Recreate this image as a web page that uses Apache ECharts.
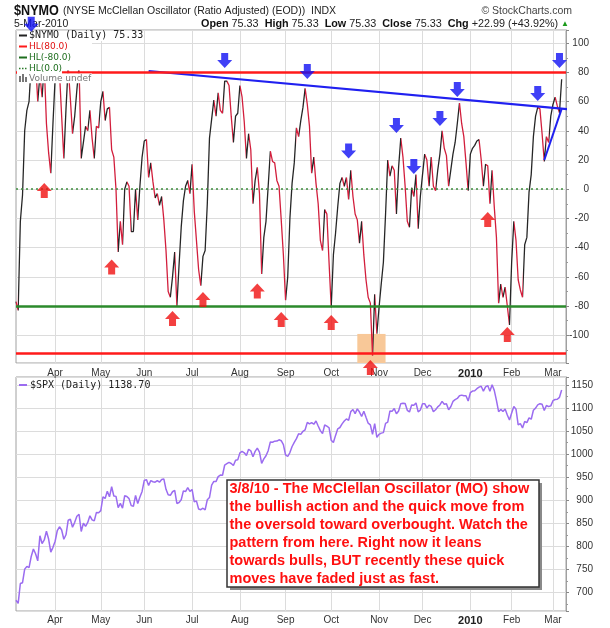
<!DOCTYPE html>
<html>
<head>
<meta charset="utf-8">
<script src="https://cdn.jsdelivr.net/npm/echarts@6/dist/echarts.min.js"></script>
</head>
<body style="margin:0;background:#fff">
<div id="main" style="width:610px;height:628px"></div>
<script>
// trading days Mar 6 2009 - Mar 5 2010 (exchange holidays skipped)
var holidays = ['2009-04-10', '2009-05-25', '2009-07-03', '2009-09-07', '2009-11-26',
  '2009-12-25', '2010-01-01', '2010-01-18', '2010-02-15'];
var padDays = ['2010-03-08', '2010-03-09'];
var monthLabels = ['Apr', 'May', 'Jun', 'Jul', 'Aug', 'Sep', 'Oct', 'Nov', 'Dec', '2010', 'Feb', 'Mar'];

// $NYMO daily
var nymoMar09 = [-77, -83, -22, -4, 40, 54, 60, 86, 96, 88, 60, 78, 63, 85, 45, 25, 11, 45];
var nymoApr09 = [76, 90, 80, 50, 21, 55, 84, 62, 38, 50, 68, 84, 21, 32, 43, 40, 54, 35, 21, 43, 42];
var nymoMay09 = [60, 67, 47, 55, 56, 27, 22, 0, -43, -22, -38, 0, 5, 2, -29, -29, 0, -21, 2, 22];
var nymoJun09 = [33, 34, 8, 18, 5, -6, -3, -11, -5, -21, -42, -70, -74, -60, -43, -80, -52, -26, -8, 2, 6, -3];
var nymoJul09 = [17, -15, -35, -55, -66, -46, -42, -10, 35, 48, 61, 50, 66, 54, 52, 74, 74, 71, 50, 32, 50, 52];
var nymoAug09 = [71, 63, 46, 21, 38, 27, -10, 6, 15, -3, -58, -33, -22, 2, 26, 19, 18, 6, 2, -21, -45];
var nymoSep09 = [-76, -60, -20, 4, 18, 42, 36, 47, 56, 69, 58, 43, 11, 22, 4, -10, -35, -42, -14, -17, -50];
var nymoOct09 = [-81, -45, -30, -12, 4, 8, 2, 8, -7, 13, -5, -17, -21, -37, -22, -45, -62, -74, -78, -114, -72, -99];
var nymoNov09 = [-81, -65, -50, -17, 20, 9, 16, 13, -17, 15, 35, 22, 2, -22, -26, 1, -5, 10, -27, -5];
var nymoDec09 = [10, 24, 20, 2, 22, 2, -1, 13, 24, 40, 28, 23, 2, 13, 24, 32, 45, 59, 45, 36, 18, -1];
var nymoJan10 = [24, 28, 30, 33, 34, 20, 2, 17, 16, -10, 13, -12, -33, -78, -65, -74, -67, -80, -93];
var nymoFeb10 = [-50, -22, -35, -62, -69, -74, -38, -33, -2, 10, 36, 50, 56, 55, 38, 19, 36, 32, 50];
var nymoMar10 = [58, 63, 57, 52.34, 75.33];

// $SPX daily closes
var spxMar09 = [683.38, 676.53, 719.60, 721.36, 750.74, 756.55, 753.89, 778.12, 794.35, 784.04, 768.54, 822.92, 806.12, 813.88, 832.86, 815.94, 787.53, 797.87];
var spxApr09 = [811.08, 834.38, 842.50, 835.48, 815.55, 825.16, 856.56, 858.73, 841.50, 852.06, 865.30, 869.60, 832.39, 850.08, 843.55, 851.92, 866.23, 857.51, 855.16, 873.64, 872.81];
var spxMay09 = [877.52, 907.24, 903.80, 919.53, 907.39, 929.23, 909.24, 908.35, 883.92, 893.07, 882.88, 909.71, 908.13, 903.47, 888.33, 887.00, 910.33, 893.06, 906.83, 919.14];
var spxJun09 = [942.87, 944.74, 931.76, 942.46, 940.09, 939.14, 942.43, 939.15, 944.89, 946.21, 923.72, 911.97, 910.71, 918.37, 921.23, 893.04, 895.10, 900.94, 920.26, 918.90, 927.23, 919.32];
var spxJul09 = [923.33, 896.42, 898.72, 881.03, 879.56, 882.68, 879.13, 901.05, 905.84, 932.68, 940.74, 940.38, 951.13, 954.58, 954.07, 976.29, 979.26, 982.18, 979.62, 975.15, 986.75, 987.48];
var spxAug09 = [1002.63, 1005.65, 1002.72, 997.08, 1010.48, 1007.10, 994.35, 1005.81, 1012.73, 1004.09, 979.73, 989.67, 996.46, 1007.37, 1026.13, 1025.57, 1028.00, 1028.12, 1030.98, 1028.93, 1020.62];
var spxSep09 = [998.04, 994.75, 1003.24, 1016.40, 1025.39, 1033.37, 1044.14, 1042.73, 1049.34, 1052.63, 1068.76, 1065.49, 1068.30, 1064.66, 1071.66, 1060.87, 1050.78, 1044.38, 1062.98, 1060.61, 1057.08];
var spxOct09 = [1029.85, 1025.21, 1040.46, 1054.72, 1057.58, 1065.48, 1071.49, 1076.19, 1073.19, 1092.02, 1096.56, 1087.68, 1097.91, 1091.06, 1081.40, 1092.91, 1079.60, 1066.95, 1063.41, 1042.63, 1066.11, 1036.19];
var spxNov09 = [1042.88, 1045.41, 1046.50, 1066.63, 1069.30, 1093.08, 1093.01, 1098.51, 1087.24, 1093.48, 1109.30, 1110.32, 1109.80, 1094.90, 1091.38, 1106.24, 1105.65, 1110.63, 1091.49, 1095.63];
var spxDec09 = [1108.86, 1109.24, 1099.92, 1105.98, 1103.25, 1091.94, 1095.95, 1102.35, 1106.41, 1114.11, 1107.93, 1109.18, 1096.08, 1102.47, 1114.05, 1118.02, 1120.59, 1126.48, 1127.78, 1126.20, 1126.42, 1115.10];
var spxJan10 = [1132.99, 1136.52, 1137.14, 1141.69, 1144.98, 1146.98, 1136.22, 1145.68, 1148.46, 1136.03, 1150.23, 1138.04, 1116.48, 1091.76, 1096.78, 1092.17, 1097.50, 1084.53, 1073.87];
var spxFeb10 = [1089.19, 1103.32, 1097.28, 1063.11, 1066.19, 1056.74, 1070.52, 1068.13, 1078.47, 1075.51, 1094.87, 1099.51, 1106.75, 1109.17, 1108.01, 1094.60, 1105.24, 1102.94, 1104.49];
var spxMar10 = [1115.71, 1118.31, 1118.79, 1122.97, 1138.70];

// annotations drawn on the oscillator: [trading-day index, value]
var downArrows = [[7, 113], [96, 88.1], [134, 80.6], [153, 26.2], [175, 43.6], [183, 15.5], [195, 48.4], [203, 68.3], [240, 65.5], [250, 88.1]];
var upArrows = [[13, -0.9], [44, -53.3], [72, -88.5], [86, -75.5], [111, -69.7], [122, -89.2], [145, -91.3], [163, -122.1], [217, -20.7], [226, -99.5]];
var resistLine = [[61, 81], [261, 53.8]];
var riseLine = [[243, 20], [251, 55]];
var oversoldZone = [[157, -99.1], [170, -119]];

var noteLines = [
  '3/8/10 - The McClellan Oscillator (MO) show',
  'the bullish action and the quick move from',
  'the oversold toward overbought. Watch the',
  'pattern from here. Right now it leans',
  'towards bulls, BUT recently these quick',
  'moves have faded just as fast.'
];

function tradingDays(start, end, skip) {
  var out = [];
  var d = new Date(start + 'T00:00:00Z');
  var e = new Date(end + 'T00:00:00Z');
  for (; d <= e; d.setUTCDate(d.getUTCDate() + 1)) {
    var wd = d.getUTCDay();
    var s = d.toISOString().slice(0, 10);
    if (wd !== 0 && wd !== 6 && skip.indexOf(s) < 0) out.push(s);
  }
  return out;
}

var dates = tradingDays('2009-03-06', '2010-03-05', holidays);
var axisDates = dates.concat(padDays);
var nymo = [].concat(nymoMar09, nymoApr09, nymoMay09, nymoJun09, nymoJul09, nymoAug09,
  nymoSep09, nymoOct09, nymoNov09, nymoDec09, nymoJan10, nymoFeb10, nymoMar10);
var spx = [].concat(spxMar09, spxApr09, spxMay09, spxJun09, spxJul09, spxAug09,
  spxSep09, spxOct09, spxNov09, spxDec09, spxJan10, spxFeb10, spxMar10);

var monthStarts = [];
for (var i = 1; i < dates.length; i++) {
  if (dates[i].slice(5, 7) !== dates[i - 1].slice(5, 7)) monthStarts.push(i);
}

// falling days are drawn red, rising days black
var RED = '#d21e3c';
var fallPieces = [];
for (var j = 0; j < nymo.length - 1; j++) {
  if (nymo[j + 1] < nymo[j]) fallPieces.push({ gte: j, lte: j + 1, color: RED });
}

var DOWN = 'path://M4,0L11,0L11,7L15,7L7.5,15L0,7L4,7Z';
var UP = 'path://M7.5,0L15,8L11,8L11,15L4,15L4,8L0,8Z';

function isMonthStart(idx) { return monthStarts.indexOf(idx) >= 0; }

function xAxisFor(gridIndex, margin) {
  return {
    type: 'category', gridIndex: gridIndex, data: axisDates, boundaryGap: false,
    axisLine: { show: false }, axisTick: { show: false },
    axisLabel: {
      interval: function (idx) { return isMonthStart(idx); },
      formatter: function (v, idx) {
        var k = monthStarts.indexOf(idx);
        if (k < 0) return '';
        return monthLabels[k] === '2010' ? '{b|2010}' : monthLabels[k];
      },
      margin: margin, color: '#333', fontSize: 10, fontFamily: 'Liberation Sans',
      rich: { b: { fontWeight: 'bold', fontSize: 11, color: '#222', fontFamily: 'Liberation Sans' } }
    },
    splitLine: {
      show: true,
      interval: function (idx) { return isMonthStart(idx); },
      lineStyle: { color: '#dcdcdc', width: 1 }
    }
  };
}

function yAxisFor(gridIndex, opts) {
  return Object.assign({
    type: 'value', gridIndex: gridIndex, position: 'right', scale: true,
    axisLine: { show: true, lineStyle: { color: '#a0a0a0' } },
    axisTick: { show: true, length: 3, lineStyle: { color: '#888' } },
    minorTick: { show: true, splitNumber: 2, length: 2, lineStyle: { color: '#999' } },
    splitLine: { show: true, lineStyle: { color: '#dcdcdc', width: 1 } }
  }, opts);
}

var chart = echarts.init(document.getElementById('main'), null, { renderer: 'canvas' });

var legendFont = '9px "DejaVu Sans"';
var monoFont = '10px "DejaVu Sans Mono"';

var option = {
  animation: false,
  backgroundColor: '#fff',
  grid: [
    { left: 16, width: 550, top: 30, height: 333, show: true, borderColor: '#a0a0a0', borderWidth: 1, backgroundColor: '#fff' },
    { left: 16, width: 550, top: 377, height: 234, show: true, borderColor: '#a0a0a0', borderWidth: 1, backgroundColor: '#fff' }
  ],
  xAxis: [xAxisFor(0, 5), xAxisFor(1, 4)],
  yAxis: [
    yAxisFor(0, {
      min: -119, max: 109, splitNumber: 11,
      axisLabel: {
        align: 'right', margin: 23, color: '#333', fontSize: 10, fontFamily: 'Liberation Sans',
        formatter: function (v) { return (v % 20 === 0 && Math.abs(v) <= 100) ? String(v) : ''; }
      }
    }),
    yAxisFor(1, {
      min: 660, max: 1167, splitNumber: 10,
      axisLabel: {
        align: 'right', margin: 27, color: '#333', fontSize: 10, fontFamily: 'Liberation Sans',
        formatter: function (v) { return (v % 50 === 0 && v >= 700 && v <= 1150) ? String(v) : ''; }
      }
    })
  ],
  visualMap: {
    show: false, type: 'piecewise', seriesIndex: 0, dimension: 0,
    pieces: fallPieces, outOfRange: { color: '#262626' }
  },
  series: [
    {
      name: '$NYMO', type: 'line', xAxisIndex: 0, yAxisIndex: 0, data: nymo,
      showSymbol: false, z: 2, lineStyle: { width: 1.3 },
      markLine: {
        silent: true, symbol: 'none', label: { show: false }, z: 5,
        data: [
          { yAxis: 80, lineStyle: { color: '#ff1a1a', width: 2.5, type: 'solid' } },
          { yAxis: -80, lineStyle: { color: '#2b8a2b', width: 2.5, type: 'solid' } },
          { yAxis: 0, lineStyle: { color: '#3c8c3c', width: 1.5, type: [2, 3] } },
          { yAxis: -112, lineStyle: { color: '#ff1a1a', width: 2.5, type: 'solid' } }
        ]
      }
    },
    {
      type: 'line', xAxisIndex: 0, yAxisIndex: 0, data: resistLine, clip: false, z: 3,
      showSymbol: false, lineStyle: { color: '#2020f0', width: 2 },
      markArea: {
        silent: true, z: 1, itemStyle: { color: '#f8c898' },
        data: [[{ coord: oversoldZone[0] }, { coord: oversoldZone[1] }]]
      }
    },
    {
      type: 'line', xAxisIndex: 0, yAxisIndex: 0, data: riseLine, clip: false, z: 3,
      showSymbol: false, lineStyle: { color: '#2020f0', width: 2 }
    },
    {
      type: 'scatter', xAxisIndex: 0, yAxisIndex: 0, data: downArrows, clip: false, z: 40,
      symbol: DOWN, symbolSize: [15, 15], itemStyle: { color: '#1010f4' }, silent: true
    },
    {
      type: 'scatter', xAxisIndex: 0, yAxisIndex: 0, data: upArrows, clip: false, z: 40,
      symbol: UP, symbolSize: [15, 15], itemStyle: { color: '#f01010' }, silent: true
    },
    {
      name: '$SPX', type: 'line', xAxisIndex: 1, yAxisIndex: 1, data: spx,
      showSymbol: false, z: 2, lineStyle: { color: '#9b6cf0', width: 1.5 }
    }
  ],
  graphic: [
    // header
    { type: 'text', x: 14, y: 11, z: 35, scaleX: 0.87, style: { text: '$NYMO', font: 'bold 14.5px "Liberation Sans"', fill: '#111', verticalAlign: 'middle' } },
    { type: 'text', x: 63, y: 11, z: 35, style: { text: '(NYSE McClellan Oscillator (Ratio Adjusted) (EOD))  INDX', font: '10.5px "Liberation Sans"', fill: '#222', verticalAlign: 'middle' } },
    { type: 'text', x: 572, y: 11, z: 35, style: { text: '\u00a9 StockCharts.com', font: '10.5px "Liberation Sans"', fill: '#444', align: 'right', verticalAlign: 'middle' } },
    { type: 'text', x: 14, y: 24, z: 35, style: { text: '5-Mar-2010', font: '10.5px "Liberation Sans"', fill: '#222', verticalAlign: 'middle' } },
    {
      type: 'text', x: 569, y: 24, z: 35,
      style: {
        text: '{b|Open} 75.33  {b|High} 75.33  {b|Low} 75.33  {b|Close} 75.33  {b|Chg} +22.99 (+43.92%) {g|\u25b2}',
        font: '10.8px "Liberation Sans"', fill: '#222', align: 'right', verticalAlign: 'middle',
        rich: { b: { font: 'bold 10.8px "Liberation Sans"', fill: '#111' }, g: { font: '8px "Liberation Sans"', fill: '#1a9a1a' } }
      }
    },
    // oscillator legend box (white backing over the series)
    { type: 'rect', z: 30, shape: { x: 17, y: 31, width: 110, height: 10 }, style: { fill: '#fff' } },
    { type: 'rect', z: 30, shape: { x: 17, y: 31, width: 75, height: 39.5 }, style: { fill: '#fff' } },
    { type: 'rect', z: 30, shape: { x: 17, y: 70, width: 45, height: 4 }, style: { fill: '#fff' } },
    { type: 'rect', z: 30, shape: { x: 17, y: 73.6, width: 75, height: 9.6 }, style: { fill: '#fff' } },
    { type: 'line', z: 35, shape: { x1: 19, y1: 35.5, x2: 27, y2: 35.5 }, style: { stroke: '#222', lineWidth: 2 } },
    { type: 'text', x: 29, y: 35.5, z: 35, style: { text: '$NYMO (Daily) 75.33', font: monoFont, fill: '#222', verticalAlign: 'middle' } },
    { type: 'line', z: 35, shape: { x1: 19, y1: 46.5, x2: 27, y2: 46.5 }, style: { stroke: '#ff1a1a', lineWidth: 2 } },
    { type: 'text', x: 29, y: 46.5, z: 35, style: { text: 'HL(80.0)', font: legendFont, fill: '#e01010', verticalAlign: 'middle' } },
    { type: 'line', z: 35, shape: { x1: 19, y1: 57.5, x2: 27, y2: 57.5 }, style: { stroke: '#1e6e1e', lineWidth: 2 } },
    { type: 'text', x: 29, y: 57.5, z: 35, style: { text: 'HL(-80.0)', font: legendFont, fill: '#1e6e1e', verticalAlign: 'middle' } },
    { type: 'line', z: 35, shape: { x1: 19, y1: 68.5, x2: 27, y2: 68.5 }, style: { stroke: '#2a7a2a', lineWidth: 1.5, lineDash: [1.5, 1.5] } },
    { type: 'text', x: 29, y: 68.5, z: 35, style: { text: 'HL(0.0)', font: legendFont, fill: '#1e6e1e', verticalAlign: 'middle' } },
    { type: 'rect', z: 35, shape: { x: 19, y: 76, width: 2, height: 6 }, style: { fill: '#777' } },
    { type: 'rect', z: 35, shape: { x: 22, y: 74, width: 2, height: 8 }, style: { fill: '#777' } },
    { type: 'rect', z: 35, shape: { x: 25, y: 77, width: 2, height: 5 }, style: { fill: '#777' } },
    { type: 'text', x: 29, y: 79, z: 35, style: { text: 'Volume undef', font: legendFont, fill: '#777', verticalAlign: 'middle' } },
    // spx legend
    { type: 'line', z: 35, shape: { x1: 19, y1: 385, x2: 27, y2: 385 }, style: { stroke: '#9b6cf0', lineWidth: 2 } },
    { type: 'text', x: 30, y: 385, z: 35, style: { text: '$SPX (Daily) 1138.70', font: monoFont, fill: '#222', verticalAlign: 'middle' } },
    // comment box
    { type: 'rect', z: 35, shape: { x: 230, y: 483, width: 312, height: 107 }, style: { fill: '#8a8a8a' } },
    { type: 'rect', z: 36, shape: { x: 227, y: 480, width: 312, height: 107 }, style: { fill: '#fff', stroke: '#333', lineWidth: 1.5 } },
    {
      type: 'text', x: 229.5, y: 480, z: 37,
      style: { text: noteLines.join('\n'), font: 'bold 14.5px "Liberation Sans"', fill: '#ff1010', lineHeight: 18 }
    }
  ]
};

chart.setOption(option);
</script>
</body>
</html>
